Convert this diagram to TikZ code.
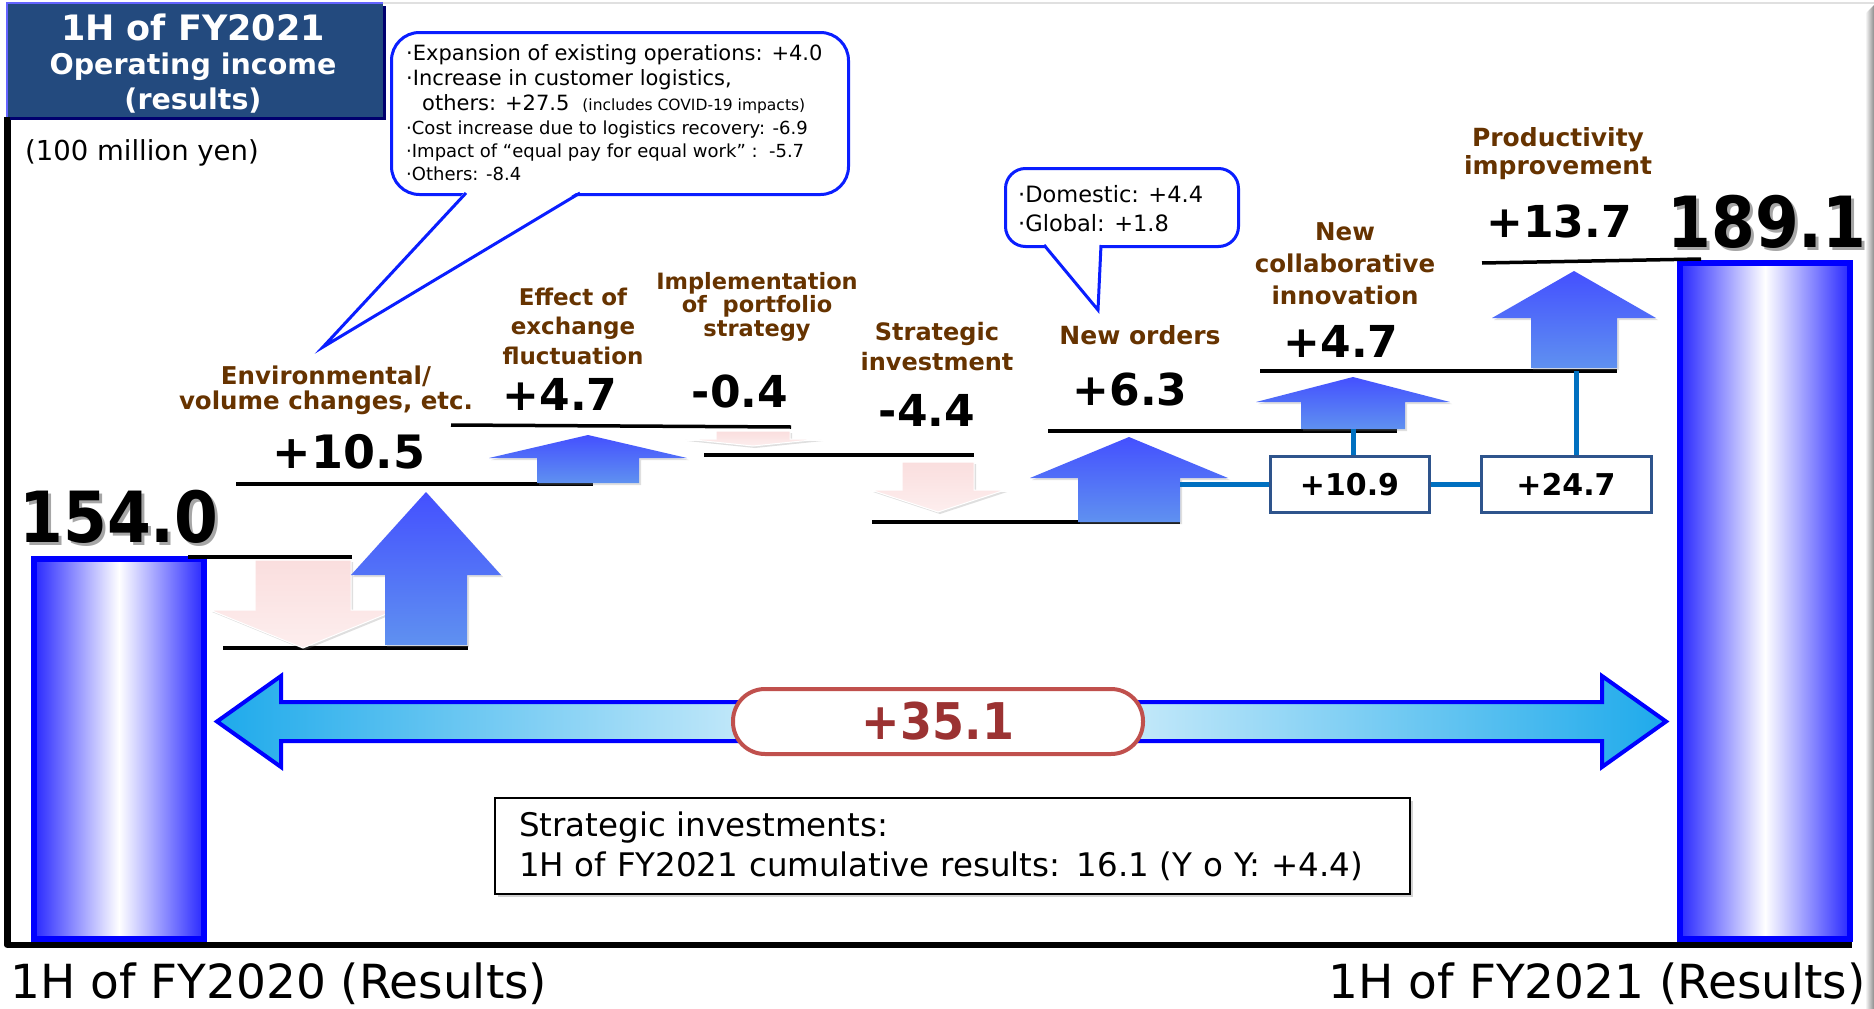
\documentclass[tikz,border=0pt]{standalone}
\usepackage{fontspec}
\setmainfont{DejaVu Sans}
\usetikzlibrary{shadows}
\definecolor{brownlab}{RGB}{102,51,0}
\definecolor{titlebg}{RGB}{35,74,126}
\definecolor{titleedge}{RGB}{100,100,255}
\definecolor{navyshadow}{RGB}{0,0,110}
\definecolor{lineblue}{RGB}{0,112,192}
\definecolor{boxblue}{RGB}{46,84,140}
\definecolor{pillred}{RGB}{192,80,77}
\definecolor{textred}{RGB}{155,50,50}
\definecolor{cyanend}{RGB}{30,170,235}
\definecolor{uptop}{RGB}{68,80,255}
\definecolor{upbot}{RGB}{95,145,240}
\definecolor{pinktop}{RGB}{250,222,222}
\definecolor{pinkbot}{RGB}{253,238,238}
\definecolor{calloutblue}{RGB}{10,30,255}
\definecolor{barblue}{RGB}{40,40,255}
\newcommand\myUpArr[6]{\path[upar] (#1-#2,#4) -- (#1-#2,#5) -- (#1-#3,#5) -- (#1,#6) -- (#1+#3,#5) -- (#1+#2,#5) -- (#1+#2,#4) -- cycle;}
\newcommand\myDnArr[6]{\path[dnar] (#1-#2,#4) -- (#1+#2,#4) -- (#1+#2,#5) -- (#1+#3,#5) -- (#1,#6) -- (#1-#3,#5) -- (#1-#2,#5) -- cycle;}
\begin{document}
\begin{tikzpicture}[x=1pt, y=-1pt,
  lab/.style={text=brownlab, align=center, inner sep=0pt},
  val/.style={inner sep=0pt, font=\bfseries\fontsize{44}{44}\selectfont},
  lvl/.style={line width=3.5pt, black},
  upar/.style={top color=uptop, bottom color=upbot, drop shadow={opacity=0.25, shadow xshift=2pt, shadow yshift=-2pt}},
  dnar/.style={top color=pinktop, bottom color=pinkbot, draw=white, line width=1pt, drop shadow={opacity=0.25, shadow xshift=2pt, shadow yshift=-2pt}},
  conn/.style={lineblue, line width=5pt},
  sumbox/.style={draw=boxblue, line width=3pt, fill=white, inner sep=0pt, font=\bfseries\fontsize{30}{30}\selectfont},
  callout/.style={draw=calloutblue, line width=3pt, fill=white, inner sep=0pt},
  cltext/.style={inner sep=0pt, anchor=base west},
  bar/.style={left color=barblue, right color=barblue, middle color=white, draw=blue, line width=6pt},
  bignum/.style={inner sep=0pt, font=\bfseries\fontsize{63}{63}\selectfont},
]
\useasboundingbox (0,0) rectangle (1874,1009);
\fill[white] (0,0) rectangle (1874,1009);
% frame decorations
\draw[black!12, line width=1.5pt] (383,3) -- (1874,3);
\shade[left color=white, right color=black!45] (1865,14) -- (1874,5) -- (1874,1009) -- (1865,1009) -- cycle;
% axes
\draw[black, line width=6.5pt, line join=round] (7.5,117) -- (7.5,945) -- (1852,945);

% title
\fill[navyshadow] (10,6) rectangle (386,120);
\fill[titlebg] (7,3) rectangle (383,117);
\draw[titleedge, line width=2pt] (7,117) -- (7,3) -- (383,3);
\node[inner sep=0pt, text=white, font=\bfseries\fontsize{35}{35}\selectfont] (t1) at (193,27) {1H of FY2021};
\node[inner sep=0pt, text=white, font=\bfseries\fontsize{28.5}{28.5}\selectfont] (t2) at (193,67) {Operating income};
\node[inner sep=0pt, text=white, font=\bfseries\fontsize{28.5}{28.5}\selectfont] (t3) at (193,101) {(results)};
\node[inner sep=0pt, font=\fontsize{27.5}{27.5}\selectfont] (unit) at (142,153) {(100 million yen)};

% bars
\path[bar] (34,559) rectangle (204,939);
\path[bar] (1680,263) rectangle (1850,939);

% level lines
\draw[lvl] (188,557) -- (352,557);
\draw[lvl] (223,648) -- (468,648);
\draw[lvl] (236,484) -- (593,484);
\draw[lvl] (451,425) -- (791,427);
\draw[lvl] (704,455) -- (974,455);
\draw[lvl] (872,522) -- (1180,522);
\draw[lvl] (1048,431) -- (1397,431);
\draw[lvl] (1260,371) -- (1617,371);
\draw[lvl] (1482,263) -- (1701,259);

% arrows
\myDnArr{303}{48}{93}{560}{610}{648}
\myUpArr{426}{41}{75}{645}{575}{492}
\myUpArr{588}{51}{99}{483}{458}{435}
\myDnArr{753}{37}{68}{431}{439}{446}
\myDnArr{938}{36}{67}{462}{490}{512}
\myUpArr{1129}{51}{99}{522}{478}{437}
\myUpArr{1353}{52}{97}{429}{402}{377}
\myUpArr{1574}{43}{82}{368}{318}{271}

% connectors and sub-total boxes
\coordinate (up3r) at (1180,484.5);
\coordinate (up4b) at (1353,429);
\coordinate (up5b) at (1576,371);
\node[sumbox, minimum width=159pt, minimum height=56pt] (b109) at (1349.5,484.5) {+10.9};
\node[sumbox, minimum width=170pt, minimum height=56pt] (b247) at (1566,484.5) {+24.7};
\draw[conn] (up3r) -- (b109.west);
\draw[conn] (b109.east) -- (b247.west);
\draw[conn] (up4b |- b109.north) -- (up4b);
\draw[conn] (up5b |- b247.north) -- (up5b);

% labels
\node[lab, font=\bfseries\fontsize{24.5}{25}\selectfont] (lenv) at (326,390.5) {Environmental/\\volume changes, etc.};
\node[lab, font=\bfseries\fontsize{23}{29.5}\selectfont] (lexch) at (573,326) {Effect of\\exchange\\fluctuation};
\node[lab, font=\bfseries\fontsize{22.5}{23.5}\selectfont] (limpl) at (757,306.5) {Implementation\\of~~portfolio\\strategy};
\node[lab, font=\bfseries\fontsize{24}{30}\selectfont] (lstrat) at (937,347) {Strategic\\investment};
\node[lab, font=\bfseries\fontsize{25}{25}\selectfont] (lnew) at (1140,335) {New orders};
\node[lab, font=\bfseries\fontsize{24.5}{32}\selectfont] (lcollab) at (1345,264) {New\\collaborative\\innovation};
\node[lab, font=\bfseries\fontsize{25}{28}\selectfont] (lprod) at (1558,154) {Productivity\\improvement};

% values
\node[val, font=\bfseries\fontsize{46}{46}\selectfont] (v105) at (349,452) {+10.5};
\node[val] (v47a) at (560,394) {+4.7};
\node[val] (v04) at (740,391) {-0.4};
\node[val] (v44) at (927,410) {-4.4};
\node[val] (v63) at (1130,389) {+6.3};
\node[val] (v47b) at (1341,341) {+4.7};
\node[val] (v137) at (1559,221) {+13.7};
\node[bignum, text=black!35] (v154s) at (122,520) {\scalebox{1}[1.12]{154.0}};
\node[bignum] (v154) at (119,517) {\scalebox{1}[1.12]{154.0}};
\node[bignum, text=black!35] (v1891s) at (1770,225) {\scalebox{1}[1.12]{189.1}};
\node[bignum] (v1891) at (1767,222) {\scalebox{1}[1.12]{189.1}};

% callout 1
\node[callout, rounded corners=28pt, minimum width=457pt, minimum height=162pt, anchor=north west] (call1) at (390,31) {};
\fill[white] (466,190.5) -- (323,347) -- (580,190.5) -- cycle;
\draw[calloutblue, line width=3pt] (466,193) -- (323,347) -- (580,193);
\node[cltext, font=\fontsize{21}{21}\selectfont] (c1a) at (406,60) {·Expansion of existing operations: +4.0};
\node[cltext, font=\fontsize{21}{21}\selectfont] (c1b) at (406,85) {·Increase in customer logistics,};
\node[cltext, font=\fontsize{21}{21}\selectfont] (c1c) at (422,110) {others: +27.5\hspace{13pt}{\fontsize{15.5}{15.5}\selectfont(includes COVID-19 impacts)}};
\node[cltext, font=\fontsize{18}{18}\selectfont] (c1d) at (406,134) {·Cost increase due to logistics recovery: -6.9};
\node[cltext, font=\fontsize{18}{18}\selectfont] (c1e) at (406,157) {·Impact of “equal pay for equal work”~:~~-5.7};
\node[cltext, font=\fontsize{18}{18}\selectfont] (c1f) at (406,180) {·Others: -8.4};

% callout 2
\node[callout, rounded corners=20pt, minimum width=233pt, minimum height=78pt, anchor=north west] (call2) at (1004,167) {};
\fill[white] (1044,242.5) -- (1098,310) -- (1101,242.5) -- cycle;
\draw[calloutblue, line width=3pt] (1044,245) -- (1098,310) -- (1101,245);
\node[cltext, font=\fontsize{22.5}{22.5}\selectfont] (c2a) at (1018,202) {·Domestic: +4.4};
\node[cltext, font=\fontsize{22.5}{22.5}\selectfont] (c2b) at (1018,231) {·Global: +1.8};

% total double arrow
\path[left color=cyanend, right color=cyanend, middle color=white, draw=blue, line width=4pt, line join=miter]
  (217,721.5) -- (281,676) -- (281,702) -- (1602,702) -- (1602,676) -- (1666,721.5) -- (1602,767) -- (1602,741) -- (281,741) -- (281,767) -- cycle;
\node[draw=pillred, line width=4pt, fill=white, rounded corners=32pt, minimum width=410pt, minimum height=65pt, inner sep=0pt, text=textred, font=\bfseries\fontsize{46}{46}\selectfont] (tot) at (938,721.5) {\scalebox{1}[1.1]{+35.1}};

% strategic investment box
\node[draw=black, line width=2pt, fill=white, drop shadow={opacity=0.35, shadow xshift=3pt, shadow yshift=-3pt}, anchor=north west, minimum width=915pt, minimum height=96pt, text width=867pt, inner xsep=24pt, inner ysep=0pt, align=left, font=\fontsize{32.5}{40}\selectfont] (sbox) at (494,797) {Strategic investments:\\1H of FY2021 cumulative results: 16.1 (Y o Y: +4.4)};

% bottom labels
\node[anchor=base west, inner sep=0pt, font=\fontsize{47}{47}\selectfont] (lx20) at (10,998) {1H of FY2020 (Results)};
\node[anchor=base east, inner sep=0pt, font=\fontsize{47}{47}\selectfont] (lx21) at (1866,998) {1H of FY2021 (Results)};
\end{tikzpicture}
\end{document}
